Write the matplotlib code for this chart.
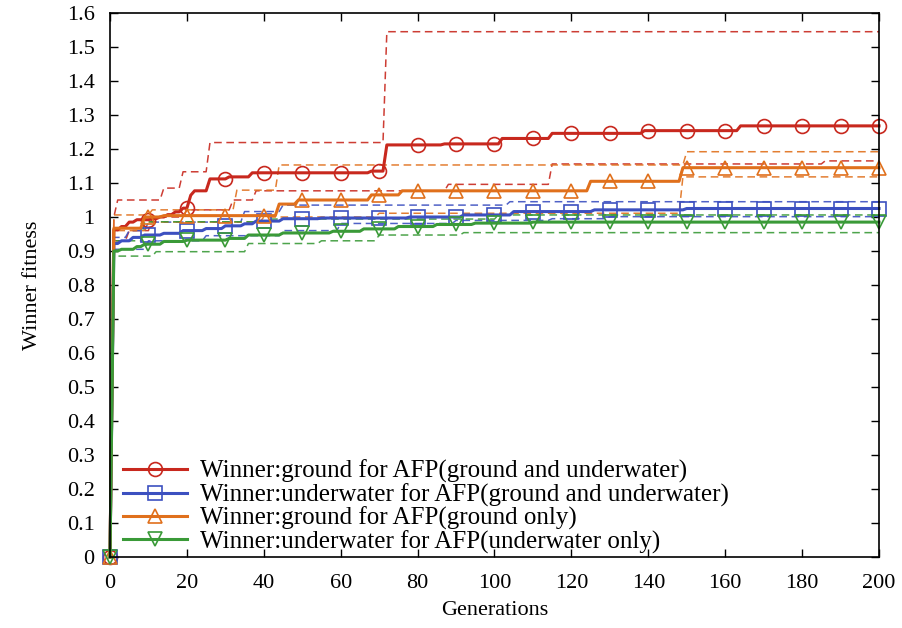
import numpy as np
import matplotlib.pyplot as plt
from matplotlib.lines import Line2D

plt.rcParams['font.family'] = ['Liberation Serif', 'DejaVu Serif']

generations = np.arange(0, 201)

# (generation, value) pairs: each curve holds its value until the next pair
red_mean = [(0, 0), (1, 0.962), (3, 0.972), (5, 0.985), (7, 0.992), (11, 0.995), (13, 1.0),
            (15, 1.007), (17, 1.015), (19, 1.026), (21, 1.064), (22, 1.077), (26, 1.112),
            (31, 1.118), (37, 1.13), (68, 1.135), (72, 1.212), (87, 1.215), (102, 1.231),
            (115, 1.246), (139, 1.254), (164, 1.268)]
red_max = [(0, 0), (1, 1.0), (2, 1.05), (14, 1.085), (19, 1.133), (26, 1.219), (72, 1.545)]
red_min = [(0, 0), (1, 0.93), (5, 0.96), (11, 1.0), (20, 1.021), (32, 1.05), (38, 1.077),
           (88, 1.096), (115, 1.156), (186, 1.165)]

blue_mean = [(0, 0), (1, 0.922), (3, 0.93), (6, 0.94), (9, 0.947), (14, 0.952), (19, 0.96),
             (25, 0.966), (30, 0.974), (35, 0.98), (38, 0.988), (45, 0.995), (55, 0.997),
             (78, 1.0), (92, 1.006), (105, 1.016), (126, 1.021), (150, 1.025)]
blue_max = [(0, 0), (1, 0.94), (5, 0.96), (10, 0.985), (35, 1.016), (45, 1.035), (104, 1.045)]
blue_min = [(0, 0), (1, 0.905), (10, 0.93), (25, 0.945), (45, 0.96), (60, 0.981), (90, 0.99),
            (115, 0.995), (130, 1.001)]

orange_mean = [(0, 0), (1, 0.967), (9, 1.0), (14, 1.004), (44, 1.038), (49, 1.05), (68, 1.065),
               (76, 1.077), (125, 1.105), (149, 1.145)]
orange_max = [(0, 0), (1, 1.006), (11, 1.021), (33, 1.079), (44, 1.153), (150, 1.192)]
orange_min = [(0, 0), (1, 0.96), (10, 0.985), (40, 1.0), (70, 1.011), (149, 1.118)]

green_mean = [(0, 0), (1, 0.9), (3, 0.905), (7, 0.913), (9, 0.92), (14, 0.928), (20, 0.932),
              (31, 0.937), (36, 0.947), (45, 0.953), (58, 0.958), (66, 0.965), (75, 0.972),
              (85, 0.978), (95, 0.982), (110, 0.985)]
green_max = [(0, 0), (1, 0.93), (9, 0.986), (42, 0.994), (101, 1.006)]
green_min = [(0, 0), (1, 0.885), (12, 0.898), (36, 0.922), (55, 0.93), (70, 0.947), (92, 0.954)]

labels = ['Winner:ground for AFP(ground and underwater)',
          'Winner:underwater for AFP(ground and underwater)',
          'Winner:ground for AFP(ground only)',
          'Winner:underwater for AFP(underwater only)']
colors = ['#c8281e', '#3c50c0', '#e0701c', '#3a9a38']
markers = ['o', 's', '^', 'v']


def expand(steps):
    g, v = zip(*steps)
    idx = np.searchsorted(g, generations, side='right') - 1
    return np.array(v)[idx]


fig = plt.figure(figsize=(9.03, 6.28), dpi=100)
ax = fig.add_axes([110 / 903, 1 - 557 / 628, 769 / 903, 544 / 628])

series = [(red_mean, red_max, red_min), (blue_mean, blue_max, blue_min),
          (orange_mean, orange_max, orange_min), (green_mean, green_max, green_min)]

for (mean, hi, lo), c in zip(series, colors):
    for band in (hi, lo):
        ax.plot(generations, expand(band), color=c, lw=1.1, ls=(0, (5, 3)), alpha=0.9)

handles = []
for (mean, hi, lo), c, m, lab in zip(series, colors, markers, labels):
    ax.plot(generations, expand(mean), color=c, lw=2.2, marker=m, markevery=10, ms=10,
            mfc='none', mew=1.2, clip_on=False)
    handles.append(Line2D([], [], color=c, lw=2.2, marker=m, ms=10, mfc='none', mew=1.2))

ax.set_xlim(0, 200)
ax.set_ylim(0, 1.6)
ax.set_xticks(np.arange(0, 201, 20))
ax.set_yticks(np.arange(0, 1.61, 0.1))
ax.set_yticklabels(['%g' % round(t, 1) for t in np.arange(0, 1.61, 0.1)])
ax.tick_params(direction='in', length=6, width=1, top=True, right=True, labelsize=16)
ax.tick_params(axis='y', pad=11)
ax.tick_params(axis='x', pad=12)
for s in ax.spines.values():
    s.set_linewidth(1.2)

ax.set_xlabel('Generations', fontsize=16, labelpad=6)
ax.set_ylabel('Winner fitness', fontsize=16, labelpad=18)

ax.legend(handles, labels, loc='lower left', bbox_to_anchor=(0.011, -0.003), frameon=False,
          fontsize=18, numpoints=1, handlelength=2.56, handletextpad=0.5, labelspacing=0.0,
          borderaxespad=0.0, borderpad=0.2)

fig.savefig('out.png', dpi=100)
